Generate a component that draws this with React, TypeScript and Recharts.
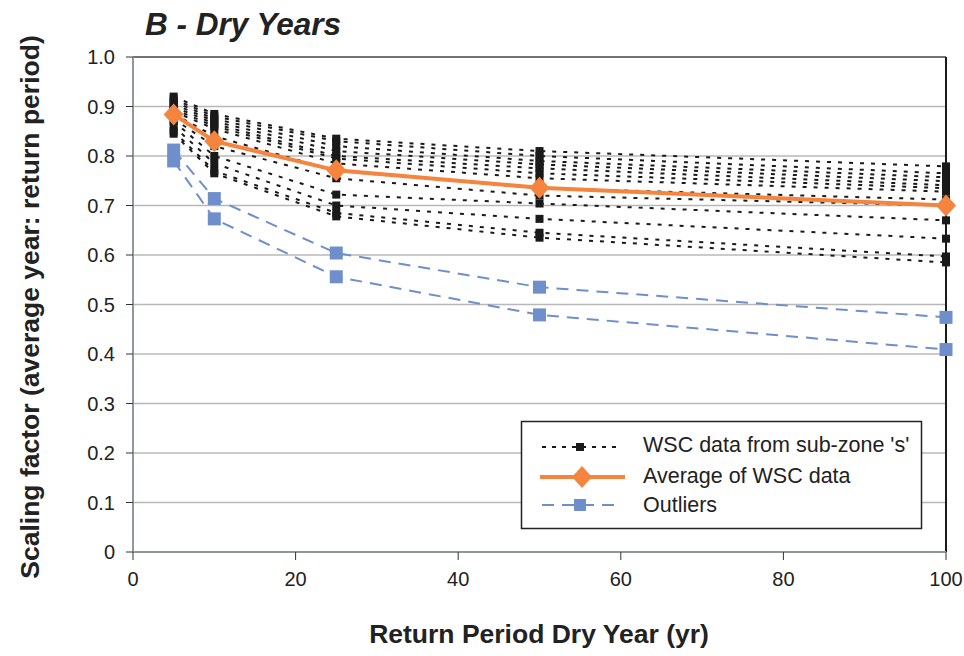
import { LineChart, Line, XAxis, YAxis, CartesianGrid, ReferenceLine } from 'recharts';

// return periods (yr) on the x axis
const returnPeriod = [5, 10, 25, 50, 100];

// WSC data from sub-zone 's' (one array per site)
const wscSubZoneS = [
  [0.92, 0.885, 0.835, 0.81, 0.779],
  [0.915, 0.88, 0.83, 0.8, 0.765],
  [0.91, 0.875, 0.82, 0.79, 0.757],
  [0.905, 0.87, 0.81, 0.783, 0.749],
  [0.9, 0.865, 0.8, 0.775, 0.741],
  [0.895, 0.86, 0.795, 0.765, 0.735],
  [0.89, 0.855, 0.785, 0.755, 0.728],
  [0.885, 0.84, 0.77, 0.735, 0.712],
  [0.875, 0.82, 0.755, 0.72, 0.7],
  [0.87, 0.8, 0.722, 0.704, 0.67],
  [0.86, 0.785, 0.7, 0.673, 0.633],
  [0.85, 0.77, 0.685, 0.645, 0.597],
  [0.845, 0.765, 0.678, 0.635, 0.585],
];

const averageWsc = [0.884, 0.83, 0.771, 0.736, 0.7];
const outlierUpper = [0.812, 0.714, 0.604, 0.535, 0.474];
const outlierLower = [0.79, 0.673, 0.556, 0.479, 0.409];

const xTicks = [0, 20, 40, 60, 80, 100];
const yTicks = [0, 0.1, 0.2, 0.3, 0.4, 0.5, 0.6, 0.7, 0.8, 0.9, 1.0];

const FONT = "'Liberation Sans', Arial, Helvetica, sans-serif";
const INK = '#222';
const ORANGE = '#F5843F';
const BLUE = '#6F8FCC';

const rows = returnPeriod.map((rp, i) => {
  const row: Record<string, number> = {
    rp,
    avg: averageWsc[i],
    outA: outlierUpper[i],
    outB: outlierLower[i],
  };
  wscSubZoneS.forEach((s, j) => {
    row[`wsc${j}`] = s[i];
  });
  return row;
});

const blackSquare = (props: any) => (
  <rect
    key={`bs-${props.dataKey}-${props.index}`}
    x={props.cx - 4}
    y={props.cy - 4}
    width={8}
    height={8}
    fill="#1a1a1a"
  />
);

const blueSquare = (props: any) => (
  <rect
    key={`bq-${props.dataKey}-${props.index}`}
    x={props.cx - 6.5}
    y={props.cy - 6.5}
    width={13}
    height={13}
    fill={BLUE}
  />
);

const diamond = (props: any) => {
  const { cx, cy } = props;
  return (
    <polygon
      key={`dm-${props.index}`}
      points={`${cx},${cy - 11} ${cx + 10},${cy} ${cx},${cy + 11} ${cx - 10},${cy}`}
      fill={ORANGE}
    />
  );
};

export default function App() {
  return (
    <div style={{ position: 'absolute', left: 0, top: 0, width: 964, height: 656, background: '#fff' }}>
      <LineChart width={964} height={656} data={rows} margin={{ top: 57, right: 18, bottom: 0, left: 0 }}>
        <CartesianGrid vertical={false} stroke="#B8B8B8" strokeWidth={1.3} />
        <XAxis
          dataKey="rp"
          type="number"
          domain={[0, 100]}
          ticks={xTicks}
          interval={0}
          height={104}
          tickSize={8}
          tickMargin={12}
          axisLine={{ stroke: '#8F98A0', strokeWidth: 2 }}
          tickLine={{ stroke: '#333' }}
          tick={{ fill: INK, fontSize: 20, fontFamily: FONT }}
        />
        <YAxis
          type="number"
          domain={[0, 1]}
          ticks={yTicks}
          interval={0}
          width={133}
          tickSize={7}
          tickMargin={11}
          tickFormatter={(v: number) => (v === 0 ? '0' : v.toFixed(1))}
          axisLine={{ stroke: '#8F98A0', strokeWidth: 2 }}
          tickLine={{ stroke: '#333' }}
          tick={{ fill: INK, fontSize: 20, fontFamily: FONT }}
        />
        <ReferenceLine y={1} stroke="#555" strokeWidth={1.5} />
        <ReferenceLine x={100} stroke="#1a1a1a" strokeWidth={2} />
        <Line
          type="linear"
          dataKey="outA"
          stroke={BLUE}
          strokeWidth={2}
          strokeDasharray="12 8"
          dot={blueSquare}
          isAnimationActive={false}
        />
        <Line
          type="linear"
          dataKey="outB"
          stroke={BLUE}
          strokeWidth={2}
          strokeDasharray="12 8"
          dot={blueSquare}
          isAnimationActive={false}
        />
        {wscSubZoneS.map((_, j) => (
          <Line
            key={`wsc${j}`}
            type="linear"
            dataKey={`wsc${j}`}
            stroke="#1a1a1a"
            strokeWidth={2}
            strokeDasharray="4 7"
            dot={blackSquare}
            isAnimationActive={false}
          />
        ))}
        <Line
          type="linear"
          dataKey="avg"
          stroke={ORANGE}
          strokeWidth={4}
          dot={diamond}
          isAnimationActive={false}
        />
      </LineChart>

      <svg
        width={964}
        height={656}
        style={{ position: 'absolute', left: 0, top: 0, pointerEvents: 'none' }}
        fontFamily={FONT}
      >
        <text x={145} y={35} fontSize={31.5} fontWeight="bold" fontStyle="italic" fill={INK}>
          B - Dry Years
        </text>
        <text
          x={39}
          y={307}
          transform="rotate(-90 39 307)"
          textAnchor="middle"
          fontSize={26.5}
          fontWeight="bold"
          fill={INK}
        >
          Scaling factor (average year: return period)
        </text>
        <text x={539} y={643} textAnchor="middle" fontSize={26.5} fontWeight="bold" fill={INK}>
          Return Period Dry Year (yr)
        </text>

        {/* legend */}
        <rect x={521.5} y={421.5} width={400} height={107} fill="#fff" stroke={INK} strokeWidth={1.5} />
        <line x1={542} y1={447} x2={618} y2={447} stroke="#1a1a1a" strokeWidth={2} strokeDasharray="4 6" />
        <rect x={576} y={443} width={8} height={8} fill="#1a1a1a" />
        <line x1={540} y1={477} x2={625} y2={477} stroke={ORANGE} strokeWidth={4} />
        <polygon points="582,466 592,477 582,488 572,477" fill={ORANGE} />
        <line x1={542} y1={505} x2={620} y2={505} stroke={BLUE} strokeWidth={2} strokeDasharray="12 8" />
        <rect x={574} y={499} width={12} height={12} fill={BLUE} />
        <text x={643} y={452} fontSize={21.5} fill={INK}>WSC data from sub-zone 's'</text>
        <text x={643} y={483} fontSize={21.5} fill={INK}>Average of WSC data</text>
        <text x={643} y={512} fontSize={21.5} fill={INK}>Outliers</text>
      </svg>
    </div>
  );
}
